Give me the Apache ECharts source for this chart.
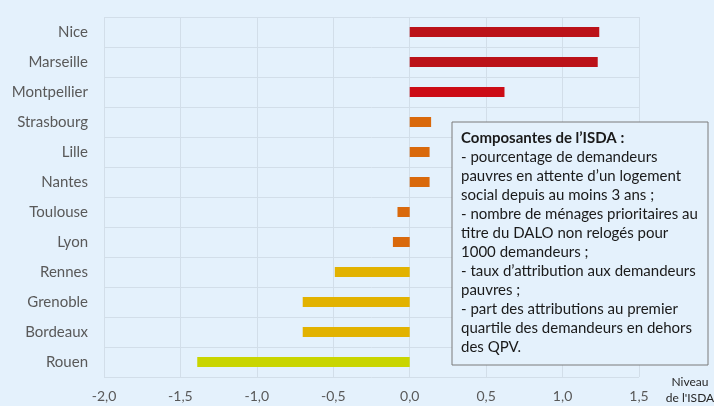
<!DOCTYPE html>
<html>
<head>
<meta charset="utf-8">
<script src="https://cdn.jsdelivr.net/npm/echarts@6/dist/echarts.min.js"></script>
<style>
    html, body { margin: 0; padding: 0; background: #e4f1fc; }
    #chart { width: 714px; height: 406px; }
</style>
</head>
<body>
<div id="chart"></div>
<script>
var villes = ['Nice', 'Marseille', 'Montpellier', 'Strasbourg', 'Lille', 'Nantes',
    'Toulouse', 'Lyon', 'Rennes', 'Grenoble', 'Bordeaux', 'Rouen'];
var isda = [1.24, 1.23, 0.62, 0.14, 0.13, 0.13, -0.08, -0.11, -0.49, -0.70, -0.70, -1.39];
var axisMin = -2.0;
var axisMax = 1.5;
var axisStep = 0.5;

var encadre = [
    '{b|Composantes de l\u2019ISDA :}',
    '- pourcentage de demandeurs',
    'pauvres en attente d\u2019un logement',
    'social depuis au moins 3 ans ;',
    '- nombre de ménages prioritaires au',
    'titre du DALO non relogés pour',
    '1000 demandeurs ;',
    '- taux d\u2019attribution aux demandeurs',
    'pauvres ;',
    '- part des attributions au premier',
    'quartile des demandeurs en dehors',
    'des QPV.'
];

function couleur(v) {
    if (v > 0.5) return v > 1 ? '#bb1219' : '#cc0c16';
    if (v > -0.3) return '#d9690c';
    if (v > -1) return '#e2b200';
    return '#c9d500';
}

var font = 'Lato, "Open Sans", sans-serif';

var myChart = echarts.init(document.getElementById('chart'));

var option = {
    backgroundColor: '#e4f1fc',
    animation: false,
    grid: { left: 104, right: 75, top: 17, bottom: 29 },
    xAxis: {
        type: 'value',
        min: axisMin,
        max: axisMax,
        interval: axisStep,
        axisLine: { show: false },
        axisTick: { show: false },
        splitLine: { lineStyle: { color: '#d2dee9', width: 1 } },
        axisLabel: {
            color: '#595959',
            fontFamily: font,
            fontSize: 14,
            margin: 12,
            formatter: function (v) { return v.toFixed(1).replace('.', ','); }
        }
    },
    yAxis: {
        type: 'category',
        inverse: true,
        data: villes,
        axisLine: { show: false },
        axisTick: { show: false },
        splitLine: { show: true, lineStyle: { color: '#d2dee9', width: 1 } },
        axisLabel: {
            color: '#595959',
            fontFamily: font,
            fontSize: 15,
            margin: 16
        }
    },
    series: [{
        type: 'bar',
        data: isda,
        barWidth: 10,
        itemStyle: {
            color: function (p) { return couleur(p.value); }
        }
    }],
    graphic: [{
        type: 'rect',
        shape: { x: 452, y: 122, width: 256, height: 243 },
        style: { fill: '#e4f1fc', stroke: '#7a7a7a', lineWidth: 1 },
        z: 10
    }, {
        type: 'text',
        x: 461,
        y: 129,
        z: 11,
        style: {
            text: encadre.join('\n'),
            fontFamily: font,
            fontSize: 15,
            lineHeight: 19,
            fill: '#1a1a1a',
            rich: {
                b: { fontWeight: 'bold', fontFamily: font, fontSize: 15, lineHeight: 19, fill: '#1a1a1a' }
            }
        }
    }, {
        type: 'text',
        x: 690,
        y: 374,
        z: 11,
        style: {
            text: 'Niveau\nde l\'ISDA',
            align: 'center',
            fontFamily: font,
            fontSize: 12,
            lineHeight: 16,
            fill: '#262626'
        }
    }]
};

myChart.setOption(option);
</script>
</body>
</html>
